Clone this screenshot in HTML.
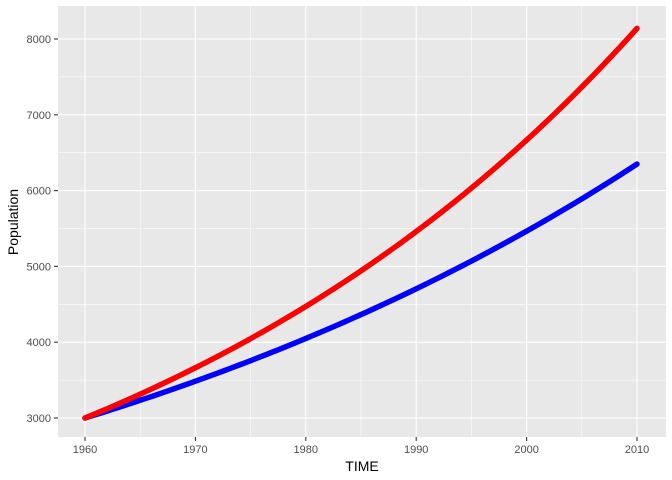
<!DOCTYPE html><html><head><style>body{margin:0;background:#fff}svg{display:block}text{font-family:"Liberation Sans",sans-serif}</style></head><body>
<svg id="s" width="672" height="480" xmlns="http://www.w3.org/2000/svg">
<rect x="58" y="6" width="608" height="431" fill="#e8e8e8"/>
<g id="g"></g>
<text x="362" y="471" font-size="14" text-anchor="middle" fill="#000">TIME</text>
<text transform="translate(18,222) rotate(-90)" font-size="14" text-anchor="middle" fill="#000">Population</text>
</svg>
<script>
var ns="http://www.w3.org/2000/svg",g=document.getElementById('g');
function X(t){return 85+(t-1960)*11.04}function Y(v){return 418-(v-3000)*0.0758}
function el(n,a){var e=document.createElementNS(ns,n);for(var k in a)e.setAttribute(k,a[k]);g.appendChild(e);return e}
for(var t=1965;t<=2005;t+=10)el('line',{x1:X(t),x2:X(t),y1:6,y2:437,stroke:'#fff','stroke-width':0.55});
for(var v=3500;v<=8000;v+=1000)el('line',{x1:58,x2:666,y1:Y(v),y2:Y(v),stroke:'#fff','stroke-width':0.55});
for(var t=1960;t<=2010;t+=10){el('line',{x1:X(t),x2:X(t),y1:6,y2:437,stroke:'#fff','stroke-width':1.1});
el('line',{x1:X(t),x2:X(t),y1:437,y2:441,stroke:'#333','stroke-width':1.1});
var tx=el('text',{x:X(t),y:453,'font-size':11,'text-anchor':'middle',fill:'#4d4d4d'});tx.textContent=t;}
for(var v=3000;v<=8000;v+=1000){el('line',{x1:58,x2:666,y1:Y(v),y2:Y(v),stroke:'#fff','stroke-width':1.1});
el('line',{x1:54,x2:58,y1:Y(v),y2:Y(v),stroke:'#333','stroke-width':1.1});
var tx=el('text',{x:51,y:Y(v)+4,'font-size':11,'text-anchor':'end',fill:'#4d4d4d'});tx.textContent=v;}
function curve(r,c){var d='';for(var i=0;i<=100;i++){var t=i*0.5;d+=(i?'L':'M')+X(1960+t).toFixed(2)+','+Y(3000*Math.exp(r*t)).toFixed(2)}
el('path',{d:d,fill:'none',stroke:c,'stroke-width':5.5,'stroke-linecap':'round','stroke-linejoin':'round'})}
curve(Math.log(6350/3000)/50,'#0000ff');curve(Math.log(8140/3000)/50,'#ff0000');
</script></body></html>
